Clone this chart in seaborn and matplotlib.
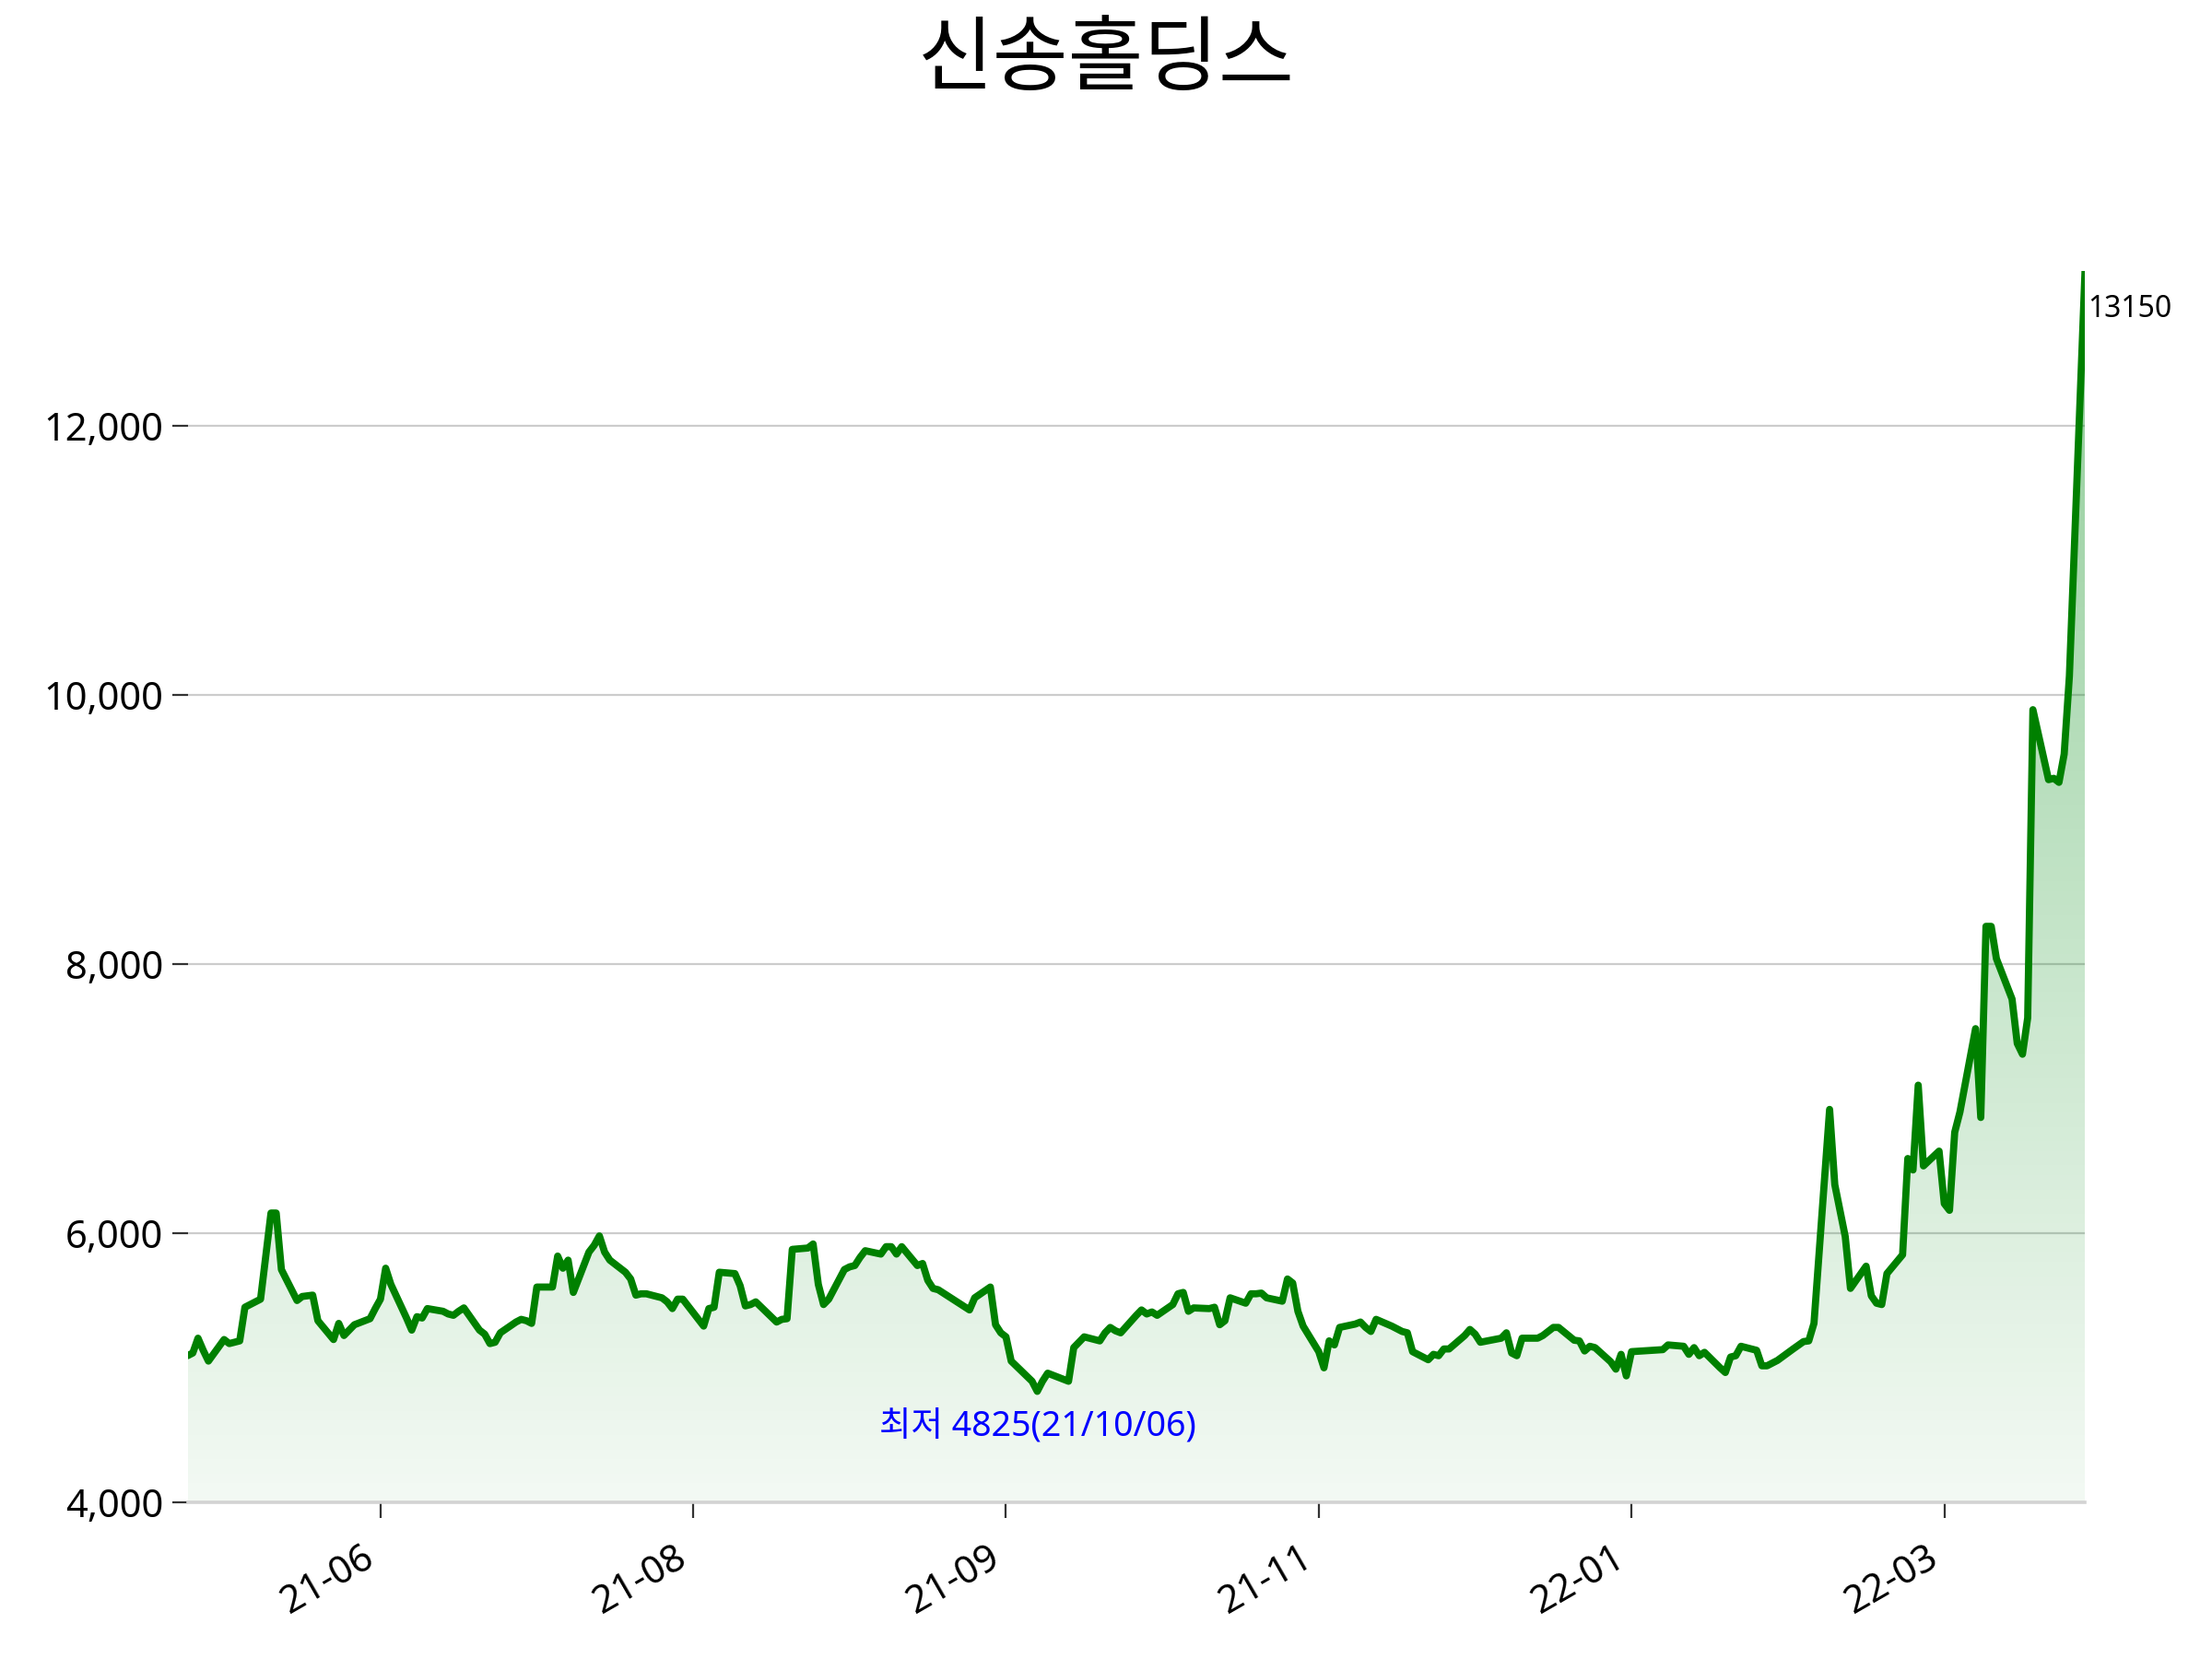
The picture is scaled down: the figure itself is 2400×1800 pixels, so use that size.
import matplotlib
matplotlib.use('Agg')
import matplotlib.pyplot as plt
import matplotlib.dates as mdates
import matplotlib.ticker as mticker
import numpy as np
import pandas as pd
import seaborn as sns

title = '신송홀딩스'

# KRX closed days inside the window
holidays = ['2021-05-05', '2021-05-19', '2021-08-16', '2021-09-20', '2021-09-21',
            '2021-09-22', '2021-10-04', '2021-10-11', '2021-12-31', '2022-01-31',
            '2022-02-01', '2022-02-02', '2022-03-01', '2022-03-09']
dates = pd.bdate_range('2021-04-26', '2022-04-25', freq='C', holidays=holidays)

# closing prices, one per trading day
close = [
    5090, 5110, 5220, 5130, 5050,                  # 04/26-
    5210, 5180, 5200, 5450,                        # 05/03-
    5510, 5830, 6150, 6150, 5730,
    5500, 5530, 5540, 5350,
    5210, 5330, 5240, 5280, 5320,
    5365, 5440, 5510, 5740, 5620,                  # 05/31-
    5370, 5280, 5380, 5370, 5440,
    5420, 5400, 5390, 5420, 5445,
    5280, 5250, 5180, 5190, 5260,
    5340, 5360, 5350, 5330, 5600,                  # 06/28-
    5600, 5830, 5740, 5800, 5560,
    5860, 5910, 5980, 5860, 5800,
    5710, 5660, 5540, 5550, 5550,
    5520, 5490, 5440, 5510, 5510,
    5360, 5310, 5440, 5450, 5710,                  # 08/02-
    5700, 5610, 5460, 5470, 5490,
    5340, 5360, 5365, 5880,
    5890, 5920, 5620, 5470, 5510,
    5730, 5750, 5760, 5820, 5870,                  # 08/30-
    5845, 5900, 5900, 5845, 5900,
    5760, 5775, 5650, 5590, 5580,
    5430, 5520,
    5600, 5320, 5260, 5230, 5050,
    4900, 4825, 4900, 4960,                        # 10/05-
    4900, 5150, 5190, 5230,
    5200, 5260, 5300, 5275, 5260,
    5390, 5430, 5400, 5415, 5390,
    5470, 5550, 5560, 5420, 5445,                  # 11/01-
    5440, 5450, 5320, 5350, 5520,
    5480, 5550, 5550, 5555, 5520,
    5495, 5660, 5630, 5420, 5310,
    5120, 5000, 5200, 5170, 5300,                  # 11/29-
    5325, 5340, 5300, 5270, 5360,
    5310, 5290, 5270, 5260, 5120,
    5060, 5100, 5090, 5140, 5140,
    5240, 5285, 5250, 5190,
    5220, 5260, 5110, 5090, 5220,                  # 22/01/03-
    5220, 5240, 5270, 5300, 5300,
    5205, 5200, 5125, 5160, 5150,
    5045, 4990, 5100, 4940, 5120,
    5135, 5170,                                    # 02/03-
    5160, 5100, 5150, 5090, 5115,
    5000, 4965, 5080, 5090, 5160,
    5130, 5015, 5015, 5035, 5055,
    5140, 5195, 5200, 5330,
    6920, 6360, 5975, 5590,                        # 03/07-
    5755, 5535, 5480, 5470, 5700,
    5840, 6555, 6470, 7100, 6500,
    6610, 6220, 6170, 6750, 6900,
    7520, 6860, 8280, 8280, 8040,                  # 04/04-
    7740, 7410, 7330, 7600, 9890,
    9370, 9380, 9350, 9560, 10140,
    13150,
]

df = pd.DataFrame({'date': dates, 'close': close})
y_min, y_max = 4000, 13150

sns.set_style('white')
# latin text in Noto Sans, hangul falls through to the CJK face
plt.rcParams['font.family'] = ['Noto Sans', 'Noto Sans CJK KR', 'DejaVu Sans']
plt.rcParams['text.color'] = 'black'
plt.rcParams['xtick.color'] = 'black'
plt.rcParams['ytick.color'] = 'black'

fig = plt.figure(figsize=(12, 9), dpi=200)
ax = fig.add_axes([0.0848, 0.0944, 0.8578, 0.7423])

sns.lineplot(data=df, x='date', y='close', color='green', linewidth=2.8, ax=ax, zorder=4)

# gradient fill under the line
fill = ax.fill_between(df['date'], df['close'], y_min, facecolor='none', edgecolor='none')
rgba = np.zeros((256, 1, 4))
rgba[..., 0] = 0.0
rgba[..., 1] = 0.55
rgba[..., 2] = 0.08
rgba[..., 3] = np.linspace(0.05, 0.44, 256)[:, None]
x0, x1 = mdates.date2num(dates[0]), mdates.date2num(dates[-1])
im = ax.imshow(rgba, extent=[x0, x1, y_min, y_max], origin='lower', aspect='auto', zorder=2)
im.set_clip_path(fill.get_paths()[0], transform=ax.transData)

ax.set_xlim(dates[0], dates[-1])
ax.set_ylim(y_min, y_max)
ax.set_xlabel('')
ax.set_ylabel('')

ax.yaxis.grid(True, color='#cccccc', linewidth=0.8)
ax.xaxis.grid(False)
ax.set_axisbelow(True)
for side in ['top', 'right', 'left']:
    ax.spines[side].set_visible(False)
ax.spines['bottom'].set_color('#d3d3d3')
ax.spines['bottom'].set_linewidth(1.3)

ax.xaxis.set_major_locator(mticker.MultipleLocator(60))
ax.xaxis.set_major_formatter(mdates.DateFormatter('%y-%m'))
ax.yaxis.set_major_locator(mticker.MultipleLocator(2000))
ax.yaxis.set_major_formatter(mticker.StrMethodFormatter('{x:,.0f}'))
ax.tick_params(axis='both', which='major', length=6, width=0.8, color='#333333',
               labelsize=15, bottom=True, left=True)
ax.tick_params(axis='x', pad=8)
plt.setp(ax.get_xticklabels(), rotation=30, ha='right')

# lowest close and last close labels
low_i = int(np.argmin(close))
ax.annotate(f'최저 {close[low_i]}({dates[low_i]:%y/%m/%d})', xy=(dates[low_i], close[low_i]),
            xytext=(0, -14), textcoords='offset points', ha='center', va='center',
            color='blue', fontsize=13.5, zorder=5)
ax.annotate(f'{close[-1]}', xy=(dates[-1], close[-1]), xytext=(1, -15),
            textcoords='offset points', ha='left', va='center', fontsize=11.5,
            annotation_clip=False)

fig.text(0.5, 0.962, title, ha='center', va='center', fontsize=32)

fig.savefig('out.png', dpi=200)
